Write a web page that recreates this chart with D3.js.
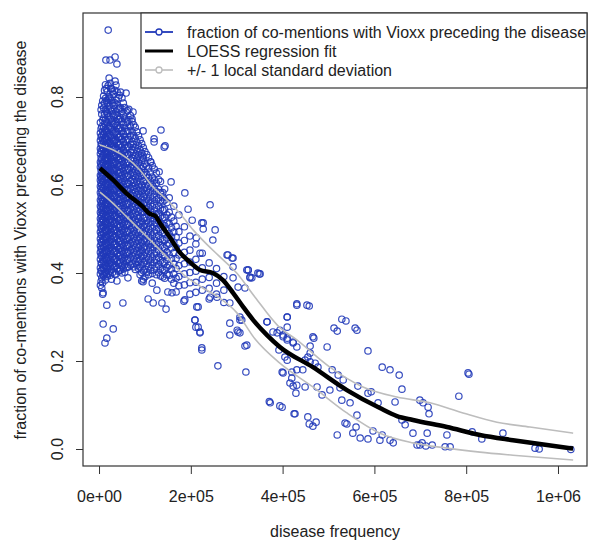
<!DOCTYPE html>
<html>
<head>
<meta charset="utf-8">
<script src="https://d3js.org/d3.v7.min.js"></script>
<style>
 body {margin: 0; background: #fff;}
 svg {display: block;}
 text {font-family: "Liberation Sans", Arial, sans-serif; fill: #222;}
</style>
</head>
<body>
<div id="chart"></div>
<script>
var width = 589, height = 541;

// disease frequency in thousands, fraction with Vioxx first
var loneK = [20,15,24,35,39,35,26,59,74,72,96,135,120,120,144,142,96,113,131,157,187,242,194,139,227,253,227,203,248,281,292,325,351,329,292,
  224,212,220,279,290,325,346,329,292,303,318,285,257,187,213,209,216,220,307,311,301,307,366,410,431,453,410,394,388,401,410,423,285,322,224,
  9,17,9,31,17,13,39,52,63,96,107,118,137,146,126,150,159,168,185,209,211,220,224,216,242,259,285,303,318,320,307,322,349,333,366,373,371,394,425,379,392,401,410,420,423,429,401,410,423,431,405,410,
  431,458,529,538,512,519,558,562,586,468,497,460,460,455,460,471,477,449,444,431,420,508,521,532,617,634,654,660,564,586,593,608,645,699,706,717,719,804,806,784,880,834,813,950,959,1028,
  431,449,475,486,503,525,529,547,562,427,455,458,466,473,536,540,519,553,560,569,586,597,612,617,634,641,660,667,684,693,704,715,726,758,754,765,699,712,399,416,399,466];
var loneFrac = [0.952,0.884,0.884,0.891,0.875,0.836,0.82,0.809,0.766,0.75,0.723,0.725,0.705,0.698,0.689,0.686,0.666,0.652,0.63,0.607,0.582,0.555,0.545,0.573,0.514,0.498,0.5,0.52,0.475,0.441,0.434,0.407,0.398,0.391,0.414,
  0.514,0.48,0.445,0.441,0.434,0.407,0.40,0.389,0.389,0.368,0.366,0.332,0.345,0.339,0.323,0.293,0.277,0.264,0.30,0.293,0.27,0.264,0.289,0.30,0.327,0.327,0.277,0.27,0.264,0.255,0.248,0.241,0.259,0.236,0.23,
  0.355,0.327,0.284,0.273,0.252,0.241,0.382,0.332,0.389,0.38,0.341,0.332,0.332,0.318,0.361,0.357,0.355,0.357,0.336,0.293,0.277,0.266,0.225,0.323,0.345,0.189,0.286,0.266,0.234,0.175,0.293,0.407,0.398,0.389,0.289,0.105,0.108,0.098,0.08,0.266,0.225,0.173,0.30,0.161,0.143,0.127,0.259,0.252,0.243,0.232,0.209,0.202,
  0.33,0.325,0.295,0.291,0.275,0.268,0.275,0.27,0.223,0.252,0.232,0.234,0.218,0.209,0.198,0.195,0.186,0.202,0.18,0.18,0.175,0.18,0.168,0.157,0.186,0.18,0.168,0.136,0.143,0.127,0.13,0.105,0.107,0.111,0.105,0.095,0.08,0.173,0.17,0.12,0.036,0.023,0.039,0.002,0.0,-0.001,
  0.145,0.141,0.141,0.123,0.134,0.139,0.111,0.105,0.077,0.08,0.073,0.057,0.052,0.061,0.059,0.057,0.032,0.036,0.05,0.025,0.023,0.041,0.02,0.032,0.02,0.014,0.066,0.055,0.036,0.009,0.014,0.036,0.009,0.032,0.005,0.005,0.009,0.007,0.175,0.15,0.095,0.255];

// the crowded low-frequency diseases, read column by column
var crowdK = [3,6,10,14,18,22,27,32,37,42,47,53,59,65,72,79,86,93,100,108,116,125,134,143,153,163,174,186,198,211,225,240,256,272];
var crowdFrac = [
  [0.742,0.718,0.701,0.683,0.671,0.652,0.641,0.622,0.611,0.597,0.583,0.566,0.552,0.538,0.524,0.509,0.493,0.478,0.462,0.447,0.431,0.412,0.398,0.372],
  [0.781,0.761,0.733,0.712,0.694,0.676,0.659,0.644,0.628,0.614,0.601,0.587,0.571,0.558,0.543,0.529,0.515,0.501,0.486,0.469,0.455,0.438,0.421,0.405,0.389,0.366],
  [0.802,0.775,0.752,0.731,0.715,0.698,0.682,0.668,0.651,0.637,0.622,0.608,0.592,0.579,0.563,0.548,0.535,0.519,0.504,0.491,0.476,0.459,0.444,0.426,0.413,0.394],
  [0.828,0.797,0.771,0.748,0.727,0.709,0.692,0.676,0.661,0.646,0.633,0.617,0.603,0.588,0.574,0.559,0.545,0.532,0.516,0.498,0.484,0.467,0.452,0.436,0.418,0.401,0.384],
  [0.812,0.788,0.763,0.741,0.721,0.703,0.687,0.671,0.655,0.642,0.627,0.613,0.598,0.584,0.569,0.555,0.541,0.526,0.511,0.495,0.481,0.463,0.447,0.429,0.409,0.392],
  [0.843,0.801,0.779,0.756,0.734,0.716,0.699,0.682,0.667,0.651,0.636,0.622,0.607,0.593,0.579,0.564,0.549,0.535,0.521,0.506,0.489,0.472,0.456,0.437,0.421,0.403],
  [0.819,0.792,0.768,0.745,0.726,0.707,0.689,0.672,0.657,0.642,0.627,0.612,0.597,0.582,0.568,0.553,0.538,0.523,0.508,0.492,0.476,0.458,0.441,0.424,0.407,0.386],
  [0.806,0.781,0.757,0.737,0.716,0.698,0.681,0.664,0.648,0.633,0.618,0.602,0.588,0.573,0.557,0.542,0.528,0.512,0.497,0.481,0.464,0.448,0.431,0.413],
  [0.827,0.793,0.766,0.744,0.722,0.704,0.686,0.669,0.653,0.638,0.622,0.607,0.591,0.576,0.561,0.546,0.531,0.516,0.499,0.484,0.467,0.451,0.434,0.417,0.398],
  [0.798,0.772,0.749,0.727,0.708,0.691,0.674,0.657,0.642,0.627,0.611,0.596,0.581,0.565,0.551,0.536,0.519,0.503,0.487,0.471,0.454,0.438,0.421,0.404],
  [0.811,0.776,0.752,0.731,0.711,0.693,0.676,0.661,0.645,0.629,0.614,0.598,0.583,0.568,0.553,0.537,0.522,0.506,0.489,0.473,0.457,0.441,0.425,0.407],
  [0.786,0.759,0.737,0.716,0.698,0.679,0.663,0.647,0.631,0.615,0.601,0.585,0.569,0.554,0.539,0.523,0.507,0.491,0.476,0.459,0.443,0.427,0.409],
  [0.766,0.741,0.721,0.702,0.684,0.667,0.651,0.634,0.619,0.603,0.588,0.572,0.557,0.541,0.526,0.51,0.494,0.478,0.462,0.446,0.429,0.412],
  [0.772,0.748,0.724,0.704,0.687,0.669,0.652,0.636,0.621,0.604,0.589,0.574,0.558,0.542,0.527,0.511,0.495,0.479,0.463,0.447,0.431,0.414],
  [0.744,0.721,0.699,0.681,0.662,0.646,0.629,0.613,0.597,0.581,0.566,0.551,0.535,0.519,0.503,0.487,0.471,0.455,0.439,0.421],
  [0.731,0.706,0.685,0.667,0.649,0.632,0.616,0.599,0.584,0.568,0.553,0.537,0.521,0.505,0.489,0.473,0.457,0.441,0.425,0.408],
  [0.712,0.689,0.669,0.651,0.634,0.618,0.601,0.586,0.57,0.554,0.539,0.523,0.507,0.491,0.474,0.458,0.442,0.426,0.41],
  [0.694,0.672,0.655,0.637,0.621,0.6,0.586,0.568,0.551,0.537,0.518,0.503,0.486,0.469,0.452,0.437,0.419,0.401,0.382],
  [0.676,0.648,0.629,0.612,0.595,0.579,0.561,0.546,0.527,0.511,0.495,0.478,0.461,0.446,0.428,0.409,0.391],
  [0.662,0.638,0.617,0.598,0.582,0.564,0.548,0.532,0.514,0.499,0.481,0.466,0.449,0.431,0.414,0.396],
  [0.644,0.618,0.601,0.584,0.566,0.551,0.533,0.517,0.501,0.484,0.468,0.451,0.434,0.417,0.399,0.377],
  [0.627,0.604,0.585,0.567,0.549,0.532,0.515,0.498,0.482,0.465,0.448,0.431,0.414,0.396],
  [0.608,0.583,0.564,0.546,0.529,0.512,0.495,0.478,0.462,0.445,0.428,0.41,0.393],
  [0.591,0.566,0.544,0.526,0.508,0.491,0.474,0.457,0.44,0.423,0.406,0.388],
  [0.571,0.538,0.512,0.489,0.466,0.441,0.418,0.395],
  [0.552,0.518,0.493,0.47,0.446,0.421,0.398,0.377],
  [0.532,0.494,0.468,0.441,0.417,0.392,0.371],
  [0.505,0.474,0.447,0.421,0.398,0.373],
  [0.484,0.452,0.425,0.401,0.378,0.352],
  [0.466,0.431,0.404,0.379,0.356],
  [0.445,0.412,0.386,0.361],
  [0.423,0.39,0.365,0.341],
  [0.41,0.377,0.352],
  [0.392,0.361,0.333]];

// second pass over the crowd, the circles sitting between the columns above
var crowdK2 = [4.5,8,12,16,20,24.5,29.5,34.5,39.5,44.5,50,56,62,68.5,75.5,82.5,89.5,96.5,104,112,120.5,130,139,148,158,168];
var crowdFrac2 = [
  [0.771,0.728,0.709,0.692,0.677,0.662,0.648,0.633,0.619,0.605,0.592,0.576,0.562,0.548,0.533,0.518,0.502,0.487,0.471,0.455,0.44,0.422,0.405,0.381],
  [0.791,0.747,0.722,0.703,0.685,0.667,0.651,0.636,0.621,0.607,0.593,0.579,0.565,0.551,0.536,0.522,0.508,0.494,0.478,0.463,0.447,0.43,0.413,0.397,0.378,0.352],
  [0.815,0.786,0.761,0.739,0.72,0.703,0.687,0.672,0.656,0.642,0.628,0.613,0.598,0.584,0.569,0.554,0.54,0.526,0.51,0.495,0.48,0.463,0.448,0.431,0.416,0.398],
  [0.819,0.792,0.767,0.744,0.724,0.706,0.69,0.673,0.658,0.644,0.63,0.615,0.6,0.586,0.571,0.557,0.543,0.529,0.513,0.497,0.482,0.465,0.45,0.432,0.413,0.396],
  [0.826,0.795,0.771,0.748,0.728,0.71,0.693,0.677,0.661,0.646,0.632,0.617,0.603,0.588,0.574,0.559,0.545,0.53,0.516,0.5,0.485,0.468,0.451,0.433,0.415,0.398],
  [0.831,0.797,0.773,0.75,0.73,0.712,0.694,0.677,0.662,0.646,0.632,0.617,0.602,0.587,0.573,0.558,0.543,0.529,0.514,0.499,0.482,0.465,0.448,0.43,0.414,0.395],
  [0.812,0.786,0.762,0.741,0.721,0.702,0.685,0.668,0.652,0.637,0.622,0.607,0.592,0.577,0.562,0.547,0.533,0.517,0.502,0.486,0.47,0.453,0.436,0.418,0.401],
  [0.815,0.787,0.761,0.74,0.719,0.701,0.683,0.666,0.65,0.635,0.62,0.604,0.589,0.574,0.559,0.544,0.529,0.514,0.498,0.482,0.465,0.449,0.432,0.415,0.397],
  [0.811,0.782,0.757,0.735,0.715,0.697,0.68,0.663,0.647,0.632,0.616,0.601,0.586,0.57,0.556,0.541,0.525,0.509,0.493,0.477,0.46,0.444,0.427,0.41],
  [0.804,0.774,0.75,0.729,0.709,0.692,0.675,0.659,0.643,0.628,0.612,0.597,0.582,0.566,0.552,0.536,0.52,0.504,0.488,0.472,0.455,0.439,0.423,0.405],
  [0.798,0.767,0.744,0.723,0.704,0.686,0.669,0.654,0.638,0.622,0.607,0.591,0.576,0.561,0.546,0.53,0.514,0.498,0.482,0.466,0.45,0.434,0.417,0.4],
  [0.776,0.75,0.729,0.709,0.691,0.673,0.657,0.64,0.625,0.609,0.594,0.578,0.563,0.547,0.532,0.516,0.5,0.484,0.469,0.452,0.436,0.419,0.402],
  [0.769,0.744,0.722,0.703,0.685,0.668,0.651,0.635,0.62,0.603,0.588,0.573,0.557,0.541,0.526,0.51,0.494,0.478,0.462,0.446,0.43,0.413],
  [0.758,0.734,0.711,0.692,0.674,0.657,0.64,0.624,0.609,0.592,0.577,0.562,0.546,0.53,0.515,0.499,0.483,0.467,0.451,0.434,0.418],
  [0.737,0.713,0.692,0.674,0.655,0.639,0.622,0.606,0.59,0.574,0.559,0.544,0.528,0.512,0.496,0.48,0.464,0.448,0.432,0.414],
  [0.721,0.697,0.677,0.659,0.641,0.625,0.608,0.592,0.577,0.561,0.546,0.53,0.514,0.498,0.481,0.465,0.449,0.433,0.417],
  [0.703,0.68,0.662,0.644,0.627,0.609,0.593,0.577,0.56,0.545,0.528,0.513,0.496,0.48,0.463,0.447,0.43,0.413,0.396],
  [0.685,0.66,0.642,0.624,0.608,0.589,0.573,0.557,0.539,0.524,0.506,0.49,0.473,0.457,0.44,0.423,0.405,0.386],
  [0.669,0.643,0.623,0.605,0.588,0.571,0.554,0.539,0.52,0.505,0.488,0.472,0.455,0.438,0.421,0.402],
  [0.653,0.628,0.609,0.591,0.574,0.557,0.54,0.524,0.507,0.491,0.474,0.458,0.441,0.424,0.406],
  [0.636,0.611,0.593,0.575,0.557,0.541,0.524,0.507,0.491,0.474,0.458,0.441,0.424,0.407],
  [0.612,0.59,0.571,0.553,0.536,0.519,0.503,0.486,0.47,0.453,0.436,0.419,0.401],
  [0.583,0.562,0.543,0.526,0.509,0.492,0.476,0.459,0.442,0.425,0.408,0.391],
  [0.56,0.532,0.514,0.497,0.48,0.463,0.447,0.43,0.413,0.396],
  [0.527,0.503,0.482,0.457,0.433,0.409,0.386],
  [0.506,0.482,0.458,0.433,0.41,0.388]];

// LOESS fit and the +/- 1 sd band
var fitK = [2,30,61,96,110,122,135,155,176,198,220,248,270,292,314,336,366,394,466,540,612,649,684,758,830,902,976,1033];
var fitFrac = [0.638,0.612,0.58,0.55,0.535,0.53,0.51,0.48,0.447,0.425,0.407,0.40,0.384,0.355,0.323,0.293,0.259,0.232,0.186,0.134,0.093,0.075,0.066,0.05,0.032,0.02,0.009,0.001];
var upK = [2,30,61,89,118,148,176,205,235,260,300,340,390,431,503,575,649,721,793,867,939,1033];
var upFrac = [0.691,0.68,0.661,0.634,0.595,0.566,0.536,0.498,0.465,0.44,0.40,0.345,0.28,0.248,0.186,0.141,0.118,0.105,0.082,0.061,0.05,0.036];
var loK = [2,30,61,89,118,148,180,220,260,300,340,394,466,540,612,684,758,830,902,1033];
var loFrac = [0.584,0.559,0.527,0.498,0.468,0.436,0.40,0.37,0.345,0.31,0.25,0.195,0.141,0.082,0.036,0.014,0.002,-0.007,-0.014,-0.025];

var xTicks = [0,200,400,600,800,1000];
var xTickLabels = ["0e+00","2e+05","4e+05","6e+05","8e+05","1e+06"];
var yTicks = [0,0.2,0.4,0.6,0.8];
var yTickLabels = ["0.0","0.2","0.4","0.6","0.8"];
var legendLabels = ["fraction of co-mentions with Vioxx preceding the disease","LOESS regression fit","+/- 1 local standard deviation"];

var blue = "#2038b8", band = "#bdbdbd", fs = 16;

var svg = d3.select("#chart").append("svg").attr("width", width).attr("height", height);

var x = d3.scaleLinear().domain([-34.9, 1063.2]).range([83, 587]);
var y = d3.scaleLinear().domain([-0.0386, 0.9909]).range([466, 13]);

var pts = [];
loneK.forEach(function(k, i){ pts.push([k, loneFrac[i]]); });
crowdK.forEach(function(k, i){ crowdFrac[i].forEach(function(f){ pts.push([k, f]); }); });
crowdK2.forEach(function(k, i){ crowdFrac2[i].forEach(function(f){ pts.push([k, f]); }); });

svg.append("g").selectAll("circle").data(pts).enter().append("circle")
   .attr("cx", function(d){ return x(d[0]); })
   .attr("cy", function(d){ return y(d[1]); })
   .attr("r", 3.2)
   .attr("fill", "none").attr("stroke", blue).attr("stroke-width", 1.2).attr("stroke-opacity", 0.9);

var line = d3.line().curve(d3.curveMonotoneX)
   .x(function(d){ return x(d[0]); }).y(function(d){ return y(d[1]); });

function pairs(a, b){ return a.map(function(v, i){ return [v, b[i]]; }); }

svg.append("path").datum(pairs(upK, upFrac)).attr("d", line)
   .attr("fill", "none").attr("stroke", band).attr("stroke-width", 1.6);
svg.append("path").datum(pairs(loK, loFrac)).attr("d", line)
   .attr("fill", "none").attr("stroke", band).attr("stroke-width", 1.6);
svg.append("path").datum(pairs(fitK, fitFrac)).attr("d", line)
   .attr("fill", "none").attr("stroke", "#000").attr("stroke-width", 4.5).attr("stroke-linejoin", "round");

// axes, R style
var xAxis = svg.append("g").attr("transform", "translate(0,466)")
   .call(d3.axisBottom(x).tickValues(xTicks).tickSize(8).tickPadding(17)
   .tickFormat(function(d, i){ return xTickLabels[i]; }));
xAxis.select(".domain").remove();
xAxis.selectAll("line").attr("stroke", "#333");
xAxis.selectAll("text").attr("font-size", fs).attr("fill", "#222").style("font-family", "Liberation Sans, Arial, sans-serif");

var yAxis = svg.append("g").attr("transform", "translate(83,0)")
   .call(d3.axisLeft(y).tickValues(yTicks).tickSize(7).tickFormat(""));
yAxis.select(".domain").remove();
yAxis.selectAll("line").attr("stroke", "#333");

svg.append("g").selectAll("text").data(yTicks).enter().append("text")
   .attr("transform", function(d){ return "translate(63," + y(d) + ") rotate(-90)"; })
   .attr("text-anchor", "middle").attr("font-size", fs)
   .text(function(d, i){ return yTickLabels[i]; });

svg.append("rect").attr("x", 83).attr("y", 13).attr("width", 504).attr("height", 453)
   .attr("fill", "none").attr("stroke", "#333").attr("stroke-width", 1.2);

svg.append("text").attr("x", 335).attr("y", 537).attr("text-anchor", "middle")
   .attr("font-size", fs).text("disease frequency");
svg.append("text").attr("transform", "translate(26,240) rotate(-90)").attr("text-anchor", "middle")
   .attr("font-size", fs).text("fraction of co-mentions with Vioxx preceding the disease");

// legend
var lg = svg.append("g");
lg.append("rect").attr("x", 141).attr("y", 13).attr("width", 446).attr("height", 75)
   .attr("fill", "#fff").attr("stroke", "#333").attr("stroke-width", 1.2);
var rows = [32, 51, 70];
var lstroke = [blue, "#000", band], lwid = [1.8, 3, 1.6];
rows.forEach(function(r, i){
  lg.append("line").attr("x1", 145).attr("x2", 173).attr("y1", r).attr("y2", r)
    .attr("stroke", lstroke[i]).attr("stroke-width", lwid[i]);
  if (i != 1) lg.append("circle").attr("cx", 159).attr("cy", r).attr("r", 3)
    .attr("fill", "#fff").attr("stroke", lstroke[i]).attr("stroke-width", 1.3);
  lg.append("text").attr("x", 187).attr("y", r).attr("dy", "0.35em")
    .attr("font-size", fs).text(legendLabels[i]);
});
</script>
</body>
</html>
